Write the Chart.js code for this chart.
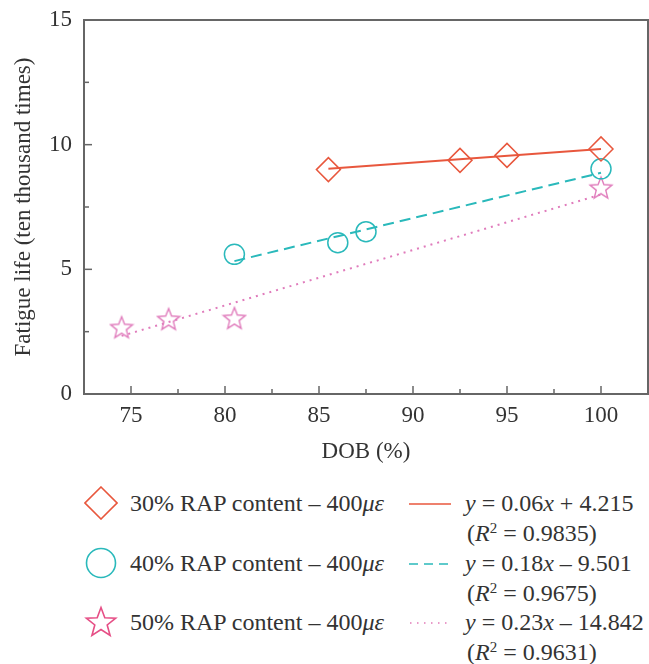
<!DOCTYPE html>
<html>
<head>
<meta charset="utf-8">
<script src="https://cdn.jsdelivr.net/npm/chart.js@4/dist/chart.umd.min.js"></script>
<style>
    body { margin: 0; background: #fff; }
    #wrap { position: relative; width: 649px; height: 664px; font-family: 'Liberation Serif', 'DejaVu Serif', serif; color: #333; }
    #chart-box { position: absolute; left: 0; top: 0; width: 649px; height: 480px; }
    .row { position: absolute; left: 0; font-size: 24px; white-space: nowrap; line-height: 26px; }
    .mark { position: absolute; left: 84px; top: -4px; }
    .name { position: absolute; left: 130px; top: 0; }
    .sample { position: absolute; left: 409px; top: 12px; }
    .eq { position: absolute; left: 465px; top: 0; }
    .r2 { position: absolute; left: 467px; top: 30px; }
    sup { font-size: 15px; vertical-align: 8px; line-height: 0; }
</style>
</head>
<body>
<div id="wrap">
    <div id="chart-box"><canvas id="fatigue-canvas" width="649" height="480"></canvas></div>
    <div class="row" style="top:490px">
        <svg class="mark" width="34" height="34"><path d="M17 1 L33 17 L17 33 L1 17 Z" fill="none" stroke="#e8573d" stroke-width="1.6"/></svg>
        <span class="name">30% RAP content – 400<i>με</i></span>
        <svg class="sample" width="44" height="4"><line x1="0" y1="2" x2="42" y2="2" stroke="#e8573d" stroke-width="1.6"/></svg>
        <span class="eq"><i>y</i> = 0.06<i>x</i> + 4.215</span>
        <span class="r2">(<i>R</i><sup>2</sup> = 0.9835)</span>
    </div>
    <div class="row" style="top:550px">
        <svg class="mark" width="34" height="34"><circle cx="17" cy="17" r="14.5" fill="none" stroke="#2ab9bb" stroke-width="1.6"/></svg>
        <span class="name">40% RAP content – 400<i>με</i></span>
        <svg class="sample" width="44" height="4"><line x1="0" y1="2" x2="42" y2="2" stroke="#2ab9bb" stroke-width="1.6" stroke-dasharray="9 6"/></svg>
        <span class="eq"><i>y</i> = 0.18<i>x</i> – 9.501</span>
        <span class="r2">(<i>R</i><sup>2</sup> = 0.9675)</span>
    </div>
    <div class="row" style="top:609px">
        <svg class="mark" width="34" height="34"><path id="legend-star" fill="none" stroke="#e64f86" stroke-width="1.6"/></svg>
        <span class="name">50% RAP content – 400<i>με</i></span>
        <svg class="sample" width="44" height="4"><line x1="1" y1="2" x2="42" y2="2" stroke="#e27ab8" stroke-width="1.4" stroke-dasharray="1.5 5.5"/></svg>
        <span class="eq"><i>y</i> = 0.23<i>x</i> – 14.842</span>
        <span class="r2">(<i>R</i><sup>2</sup> = 0.9631)</span>
    </div>
</div>
<script>
// Fatigue life vs DOB, three RAP contents at 400 micro-strain

const dob30 = [85.5, 92.5, 95, 100];
const life30 = [9.0, 9.37, 9.57, 9.83];
const dob40 = [80.5, 86, 87.5, 100];
const life40 = [5.6, 6.07, 6.51, 9.03];
const dob50 = [74.5, 77, 80.5, 100];
const life50 = [2.67, 3.0, 3.04, 8.27];

// fitted lines as drawn (end points)
const fitX30 = [85.5, 100];
const fitY30 = [9.03, 9.83];
const fitX40 = [80.5, 100];
const fitY40 = [5.33, 8.87];
const fitX50 = [74.5, 100];
const fitY50 = [2.33, 8.0];

const xTicks = [75, 80, 85, 90, 95, 100];
const xMinor = [77.5, 82.5, 87.5, 92.5, 97.5];
const yTicks = [0, 5, 10, 15];
const yMinor = [2.5, 7.5, 12.5];

const RED = '#e8573d';
const CYAN = '#2ab9bb';
const PINK = '#e07cbc';

function starPath(cx, cy, outer, inner) {
    const pts = [];
    for (let i = 0; i < 10; i++) {
        const r = i % 2 === 0 ? outer : inner;
        const a = -Math.PI / 2 + i * Math.PI / 5;
        pts.push([cx + r * Math.cos(a), cy + r * Math.sin(a)]);
    }
    return pts;
}

function makeStar(color) {
    const c = document.createElement('canvas');
    c.width = 26;
    c.height = 26;
    const ctx = c.getContext('2d');
    const pts = starPath(13, 13.8, 11.5, 5);
    ctx.beginPath();
    pts.forEach((p, i) => i ? ctx.lineTo(p[0], p[1]) : ctx.moveTo(p[0], p[1]));
    ctx.closePath();
    ctx.strokeStyle = color;
    ctx.lineWidth = 1.4;
    ctx.stroke();
    return c;
}

// legend star
document.querySelector('#legend-star').setAttribute('d',
    'M' + starPath(17, 18, 15.5, 6.5).map(p => p[0].toFixed(1) + ' ' + p[1].toFixed(1)).join(' L') + ' Z');

const pairs = (xs, ys) => xs.map((x, i) => ({ x: x, y: ys[i] }));

const frame = {
    id: 'frame',
    afterDraw(chart) {
        const { ctx, chartArea: a, scales: { x, y } } = chart;
        ctx.save();
        ctx.strokeStyle = '#666';
        ctx.lineWidth = 1.5;
        const tick = (px, py, dx, dy) => {
            ctx.beginPath();
            ctx.moveTo(px, py);
            ctx.lineTo(px + dx, py + dy);
            ctx.stroke();
        };
        xTicks.forEach(v => tick(x.getPixelForValue(v), a.bottom, 0, -8));
        xMinor.forEach(v => tick(x.getPixelForValue(v), a.bottom, 0, -5));
        yTicks.forEach(v => tick(a.left, y.getPixelForValue(v), 8, 0));
        yMinor.forEach(v => tick(a.left, y.getPixelForValue(v), 5, 0));
        ctx.lineWidth = 2;
        ctx.strokeRect(a.left, a.top, a.right - a.left, a.bottom - a.top);
        ctx.restore();
    }
};

const font = { family: "'Liberation Serif', 'DejaVu Serif', serif", size: 23 };

new Chart(document.querySelector('#fatigue-canvas').getContext('2d'), {
    type: 'scatter',
    data: {
        datasets: [
            {
                data: pairs(fitX30, fitY30), showLine: true, borderColor: RED,
                borderWidth: 2, pointRadius: 0
            },
            {
                data: pairs(fitX40, fitY40), showLine: true, borderColor: CYAN,
                borderWidth: 2, borderDash: [11, 6], pointRadius: 0
            },
            {
                data: pairs(fitX50, fitY50), showLine: true, borderColor: PINK,
                borderWidth: 2, borderDash: [2, 5], pointRadius: 0
            },
            {
                data: pairs(dob30, life30), pointStyle: 'rectRot', pointRadius: 12,
                borderColor: RED, backgroundColor: 'transparent', pointBorderWidth: 1.5
            },
            {
                data: pairs(dob40, life40), pointStyle: 'circle', pointRadius: 10,
                borderColor: CYAN, backgroundColor: 'transparent', pointBorderWidth: 1.5
            },
            {
                data: pairs(dob50, life50), pointStyle: makeStar(PINK), pointRadius: 11,
                borderColor: PINK, backgroundColor: 'transparent'
            }
        ]
    },
    options: {
        responsive: false,
        animation: false,
        layout: { autoPadding: false, padding: { top: 20, right: 1, left: 0, bottom: 0 } },
        plugins: { legend: { display: false }, tooltip: { enabled: false } },
        scales: {
            x: {
                type: 'linear',
                min: 72.5,
                max: 102.5,
                afterBuildTicks: scale => { scale.ticks = xTicks.map(v => ({ value: v })); },
                afterFit: scale => {
                    scale.height = 86;
                    scale.paddingLeft = 0;
                    scale.paddingRight = 0;
                },
                ticks: { font: font, color: '#333', padding: 8, maxRotation: 0 },
                grid: { display: false, drawTicks: false },
                border: { display: false },
                title: { display: true, text: 'DOB (%)', font: font, color: '#333', padding: { top: 0, bottom: 14 } }
            },
            y: {
                min: 0,
                max: 15,
                afterBuildTicks: scale => { scale.ticks = yTicks.map(v => ({ value: v })); },
                afterFit: scale => {
                    scale.width = 84;
                    scale.paddingTop = 0;
                    scale.paddingBottom = 0;
                },
                ticks: { font: font, color: '#333', padding: 12 },
                grid: { display: false, drawTicks: false },
                border: { display: false },
                title: { display: true, text: 'Fatigue life (ten thousand times)', font: font, color: '#333', padding: { top: 10, bottom: 0 } }
            }
        }
    },
    plugins: [frame]
});
</script>
</body>
</html>
